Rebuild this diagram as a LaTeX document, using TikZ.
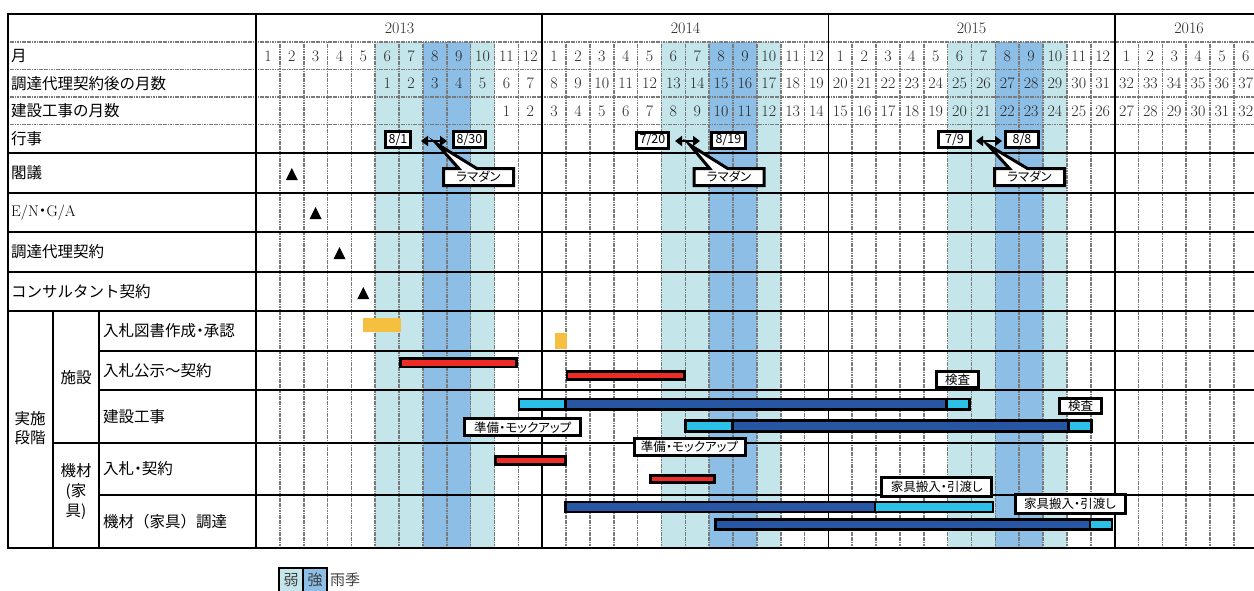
\documentclass[tikz,border=0pt]{standalone}
\usepackage{fontspec}
\usetikzlibrary{arrows.meta,shapes.callouts}
\newfontfamily\jp{Noto Sans CJK JP}
\newfontfamily\jpp[RawFeature=+palt]{Noto Sans CJK JP}
\definecolor{weakrain}{HTML}{C4E6EB}
\definecolor{strongrain}{HTML}{8DBEE6}
\definecolor{barred}{HTML}{EE2B27}
\definecolor{barblue}{HTML}{2756A5}
\definecolor{barcyan}{HTML}{2BC0E8}
\definecolor{baryellow}{HTML}{F5C040}
\definecolor{gridgray}{HTML}{7A7A7A}

\begin{document}
\begin{tikzpicture}[x=1pt,y=-1pt,line cap=butt,
  rowlabel/.style={anchor=west,inner sep=0pt,font=\jp\fontsize{15.5}{19}\selectfont},
  num/.style={inner sep=0pt,text=black!85,font=\fontsize{16}{16}\selectfont},
  gridline/.style={draw=gridgray,line width=1.6pt,dash pattern=on 1.2pt off 0.5pt},
  rule/.style={line width=1.8pt},
  frame/.style={line width=2.4pt},
  tagbox/.style={draw,line width=3pt,fill=white,inner sep=0pt,font=\jpp\fontsize{12.5}{13}\selectfont},
  ramadan/.style={tagbox,rectangle callout,minimum width=70pt,minimum height=17pt,callout pointer width=18pt},
  period/.style={line width=2.4pt,{Triangle[length=7pt,width=10pt]}-{Triangle[length=7pt,width=10pt]}},
  bar/.style={draw,line width=2.6pt},
  milestone/.style={fill=black}]
\useasboundingbox (0,0) rectangle (1254,590);
\begin{scope}
\clip (0,0) rectangle (1254,590);
% rainy season shading
\foreach \yr in {0,1,2} {
  \foreach \m/\c in {6/weakrain,7/weakrain,8/strongrain,9/strongrain,10/weakrain} {
    \pgfmathsetmacro\xl{256+23.85*(12*\yr+\m-1)}
    \fill[\c] (\xl,42) rectangle ++(23.85,506);
  }
}
% grid
\foreach \k in {1,...,41} {
  \pgfmathtruncatemacro\yb{mod(\k,12)}
  \ifnum\yb>0 \draw[gridline] ({256+23.85*\k},42) -- ({256+23.85*\k},548); \fi
}
\foreach \yy in {42,69.5,97,124.5} \draw[gridline] (8,\yy) -- (1254,\yy);
\draw[rule] (8,153) -- (1254,153);
\draw[rule] (8,193) -- (1254,193);
\draw[rule] (8,232) -- (1254,232);
\draw[rule] (8,272) -- (1254,272);
\draw[rule] (8,311) -- (1254,311);
\draw[rule] (99,351) -- (1254,351);
\draw[rule] (99,390) -- (1254,390);
\draw[rule] (53,443) -- (1254,443);
\draw[rule] (99,495) -- (1254,495);
\draw[rule] (53,311) -- (53,548);
\draw[rule] (99,311) -- (99,548);
\draw[rule] (256,14) -- (256,548);
\foreach \k in {12,24,36} \draw[rule] ({256+23.85*\k},14) -- ++(0,534);
\draw[frame] (1254,14) -- (8,14) -- (8,548) -- (1254,548);

% years
\node[num] (y13) at (399.5,28) {2013};
\node[num] (y14) at (685.5,28) {2014};
\node[num] (y15) at (971.5,28) {2015};
\node[num] (y16) at (1189,28) {2016};
% month numbers
\foreach \k in {1,...,42} {
  \pgfmathtruncatemacro\m{mod(\k-1,12)+1}
  \pgfmathsetmacro\cx{256+23.85*(\k-0.5)}
  \node[num] (m\k) at (\cx,56) {\m};
}
\foreach \k in {6,...,42} {
  \pgfmathtruncatemacro\n{\k-5}
  \pgfmathsetmacro\cx{256+23.85*(\k-0.5)}
  \node[num] (p\k) at (\cx,83.5) {\n};
}
\foreach \k in {11,...,42} {
  \pgfmathtruncatemacro\n{\k-10}
  \pgfmathsetmacro\cx{256+23.85*(\k-0.5)}
  \node[num] (c\k) at (\cx,111) {\n};
}

% row labels
\node[rowlabel] (lmonth) at (11,56) {月};
\node[rowlabel] (lafter) at (11,83.5) {調達代理契約後の月数};
\node[rowlabel] (lbuild) at (11,111) {建設工事の月数};
\node[rowlabel] (levent) at (11,139) {行事};
\node[rowlabel] (lcab) at (11,173) {閣議};
\node[rowlabel,font=\fontsize{15.5}{19}\selectfont] (len) at (11,213) {E/N{\jpp ・}G/A};
\node[rowlabel] (lagent) at (11,252) {調達代理契約};
\node[rowlabel] (lconsult) at (11,292) {コンサルタント契約};
\node[rowlabel] (ldocs) at (103,331) {入札図書作成{\jpp ・}承認};
\node[rowlabel] (ltender) at (103,370.5) {入札公示〜契約};
\node[rowlabel] (lwork) at (103,416.5) {建設工事};
\node[rowlabel] (lbid) at (103,469) {入札{\jpp ・}契約};
\node[rowlabel] (lsupply) at (103,521.5) {機材（家具）調達};
\node[rowlabel,anchor=center,align=center] (lphase) at (30,428) {実施\\段階};
\node[rowlabel,anchor=center] (lfac) at (76,378) {施設};
\node[rowlabel,anchor=center,align=center,font=\jp\fontsize{15.5}{20}\selectfont] (lequip) at (76,492) {機材\\(家\\具)};

% events
\node[tagbox,minimum width=25pt,minimum height=16pt] (d13a) at (398,139.5) {8/1};
\node[tagbox,minimum width=32pt,minimum height=16pt] (d13b) at (469.5,139.5) {8/30};
\coordinate (a13l) at (421,141);
\coordinate (a13r) at (447,141);
\draw[period] (a13l) -- (a13r);
\coordinate (r13) at (437,144);
\node[ramadan,callout absolute pointer={(r13)}] (rd13) at (478.5,177) {ラマダン};

\node[tagbox,minimum width=32pt,minimum height=16pt] (d14a) at (652.5,140) {7/20};
\node[tagbox,minimum width=34pt,minimum height=16pt] (d14b) at (728.5,140) {8/19};
\coordinate (a14l) at (675,141);
\coordinate (a14r) at (700,141);
\draw[period] (a14l) -- (a14r);
\coordinate (r14) at (690,145);
\node[ramadan,callout absolute pointer={(r14)}] (rd14) at (729,177) {ラマダン};

\node[tagbox,minimum width=32pt,minimum height=16pt] (d15a) at (954.5,139.5) {7/9};
\node[tagbox,minimum width=33pt,minimum height=16pt] (d15b) at (1022,139.5) {8/8};
\coordinate (a15l) at (976,141);
\coordinate (a15r) at (1002,141);
\draw[period] (a15l) -- (a15r);
\coordinate (r15) at (988,145);
\node[ramadan,callout absolute pointer={(r15)}] (rd15) at (1029.5,177) {ラマダン};

% milestones
\fill[milestone] (285.8,180) -- (297.8,180) -- (291.8,168) -- cycle;
\fill[milestone] (309.6,219) -- (321.6,219) -- (315.6,207) -- cycle;
\fill[milestone] (333.5,259) -- (345.5,259) -- (339.5,247) -- cycle;
\fill[milestone] (357.3,299) -- (369.3,299) -- (363.3,287) -- cycle;

% bars
\fill[baryellow] (362.7,318) rectangle (400.7,331.7);
\fill[baryellow] (555,333) rectangle (567.3,349);
\draw[bar,fill=barred] (400.3,358.6) rectangle (516.4,367);
\draw[bar,fill=barred] (567,371.3) rectangle (684.4,379.4);
\draw[bar,fill=barcyan] (519,398.8) rectangle (565.7,409.2);
\draw[bar,fill=barblue] (565.7,398.8) rectangle (946.7,409.2);
\draw[bar,fill=barcyan] (946.7,398.8) rectangle (969.7,409.2);
\draw[bar,fill=barcyan] (685.3,420.6) rectangle (732.3,431.7);
\draw[bar,fill=barblue] (732.3,420.6) rectangle (1068.3,431.7);
\draw[bar,fill=barcyan] (1068.3,420.6) rectangle (1091.4,431.7);
\draw[bar,fill=barred] (495.6,456.3) rectangle (565.4,464.4);
\draw[bar,fill=barred] (650.6,475.3) rectangle (714.4,482.7);
\draw[bar,fill=barblue] (565.6,502.1) rectangle (875,512);
\draw[bar,fill=barcyan] (875,502.1) rectangle (993,512);
\draw[bar,fill=barblue] (715.3,519.6) rectangle (1090,529.7);
\draw[bar,fill=barcyan] (1090,519.6) rectangle (1112,529.7);

% bar labels
\node[tagbox,minimum width=116pt,minimum height=17pt] (prep1) at (522.8,427.3) {準備・モックアップ};
\node[tagbox,minimum width=111pt,minimum height=17pt] (prep2) at (689.5,446.7) {準備・モックアップ};
\node[tagbox,minimum width=42pt,minimum height=16pt] (insp1) at (957.5,379.7) {検査};
\node[tagbox,minimum width=42pt,minimum height=15.5pt] (insp2) at (1080.5,406) {検査};
\node[tagbox,minimum width=110pt,minimum height=19pt] (hand1) at (936.7,487.2) {家具搬入・引渡し};
\node[tagbox,minimum width=110pt,minimum height=19pt] (hand2) at (1070,503.8) {家具搬入・引渡し};

% legend
\draw[line width=1.4pt,fill=weakrain] (279,568) rectangle (303,593);
\draw[line width=1.4pt,fill=strongrain] (303,568) rectangle (327,593);
\node[inner sep=0pt,text=black!75,font=\jp\fontsize{15}{16}\selectfont] (lweak) at (291,580) {弱};
\node[inner sep=0pt,text=black!75,font=\jp\fontsize{15}{16}\selectfont] (lstrong) at (315,580) {強};
\node[inner sep=0pt,anchor=west,text=black!75,font=\jp\fontsize{15}{16}\selectfont] (lrain) at (330,580) {雨季};
\end{scope}
\end{tikzpicture}
\end{document}
